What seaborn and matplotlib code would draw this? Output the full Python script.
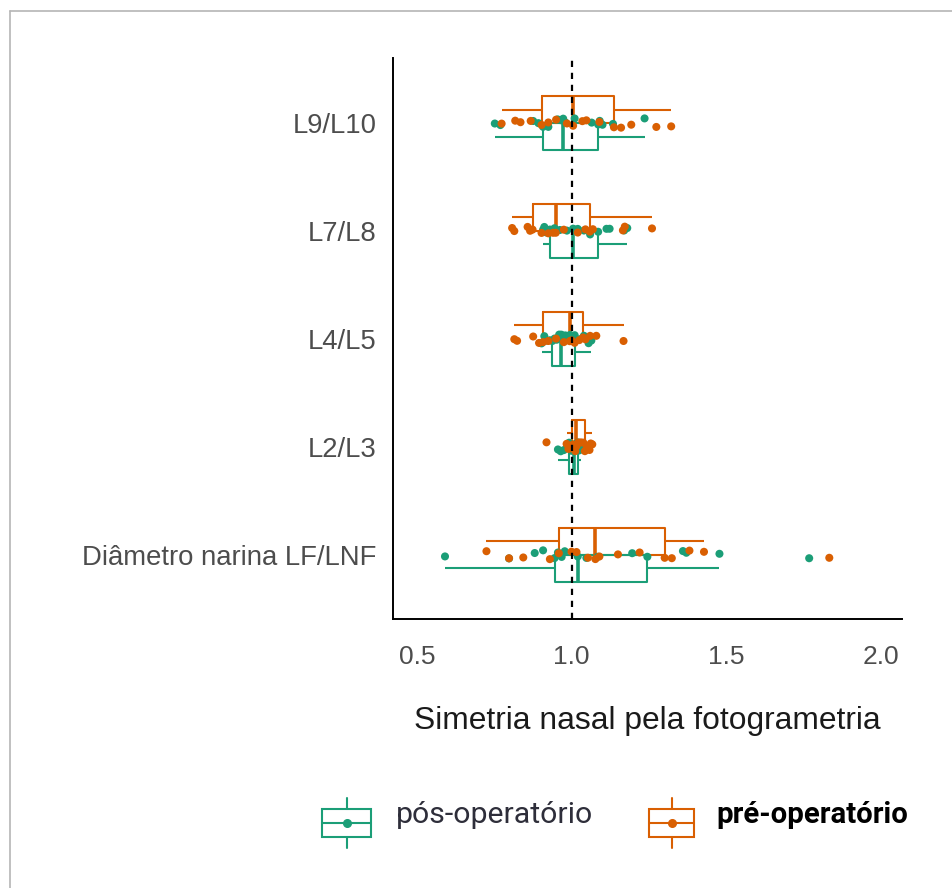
import numpy as np
import pandas as pd
import matplotlib
matplotlib.use("Agg")
import matplotlib.pyplot as plt
from matplotlib.lines import Line2D
from matplotlib.patches import Rectangle
import seaborn as sns

# ---------------- data ----------------
categories = ["L9/L10", "L7/L8", "L4/L5", "L2/L3", "Diâmetro narina LF/LNF"]
groups = ["pós-operatório", "pré-operatório"]

pos_L9_L10 = [0.752, 0.770, 0.876, 0.893, 0.908, 0.925, 0.955, 0.965, 0.973,
              0.980, 1.010, 1.065, 1.086, 1.091, 1.100, 1.134, 1.236]
pre_L9_L10 = [0.774, 0.818, 0.835, 0.868, 0.903, 0.925, 0.950, 0.985, 1.005,
              1.035, 1.048, 1.090, 1.137, 1.160, 1.193, 1.274, 1.322]

pos_L7_L8 = [0.908, 0.912, 0.918, 0.925, 0.930, 0.945, 0.962, 0.985, 1.005,
             1.020, 1.040, 1.060, 1.086, 1.113, 1.123, 1.170, 1.180]
pre_L7_L8 = [0.808, 0.815, 0.858, 0.866, 0.874, 0.903, 0.925, 0.940, 0.949,
             0.975, 1.020, 1.045, 1.059, 1.069, 1.166, 1.172, 1.260]

pos_L4_L5 = [0.903, 0.912, 0.920, 0.930, 0.938, 0.945, 0.952, 0.960, 0.967,
             0.972, 0.980, 0.995, 1.010, 1.025, 1.040, 1.055, 1.064]
pre_L4_L5 = [0.815, 0.824, 0.876, 0.895, 0.908, 0.925, 0.950, 0.975, 0.994,
             1.000, 1.010, 1.025, 1.037, 1.045, 1.060, 1.080, 1.168]

pos_L2_L3 = [0.956, 0.965, 0.975, 0.985, 0.992, 0.996, 1.000, 1.004, 1.008,
             1.010, 1.013, 1.017, 1.021, 1.024, 1.027, 1.030, 1.032]
pre_L2_L3 = [0.919, 0.984, 0.990, 0.995, 1.000, 1.005, 1.008, 1.012, 1.016,
             1.022, 1.030, 1.038, 1.043, 1.050, 1.058, 1.062, 1.067]

pos_diam = [0.591, 0.798, 0.881, 0.908, 0.945, 0.956, 0.968, 0.978, 1.020,
            1.048, 1.085, 1.196, 1.245, 1.360, 1.371, 1.478, 1.768]
pre_diam = [0.725, 0.798, 0.844, 0.930, 0.959, 1.000, 1.016, 1.053, 1.077,
            1.090, 1.150, 1.220, 1.301, 1.324, 1.381, 1.428, 1.833]

x_ticks = [0.5, 1.0, 1.5, 2.0]
x_tick_labels = ["0.5", "1.0", "1.5", "2.0"]
x_label = "Simetria nasal pela fotogrametria"
reference_value = 1.0

series = {
    ("L9/L10", "pós-operatório"): pos_L9_L10,
    ("L9/L10", "pré-operatório"): pre_L9_L10,
    ("L7/L8", "pós-operatório"): pos_L7_L8,
    ("L7/L8", "pré-operatório"): pre_L7_L8,
    ("L4/L5", "pós-operatório"): pos_L4_L5,
    ("L4/L5", "pré-operatório"): pre_L4_L5,
    ("L2/L3", "pós-operatório"): pos_L2_L3,
    ("L2/L3", "pré-operatório"): pre_L2_L3,
    ("Diâmetro narina LF/LNF", "pós-operatório"): pos_diam,
    ("Diâmetro narina LF/LNF", "pré-operatório"): pre_diam,
}
rows = []
for (cat, grp), vals in series.items():
    for v in vals:
        rows.append({"medida": cat, "momento": grp, "valor": v})
df = pd.DataFrame(rows)

# ---------------- style ----------------
GREEN = "#1B9E77"
ORANGE = "#D95F02"
palette = {"pós-operatório": GREEN, "pré-operatório": ORANGE}

sns.set_theme(style="white")
plt.rcParams["font.family"] = ["Liberation Sans", "DejaVu Sans"]

W, H = 953, 888
fig = plt.figure(figsize=(W / 100, H / 100), dpi=100)
fig.patch.set_facecolor("white")


def fx(px):
    return px / W


def fy(py):
    return 1 - py / H


ax = fig.add_axes([fx(392.7), fy(619.3), fx(901.7) - fx(392.7), fy(58.3) - fy(619.3)])

np.random.seed(3)
sns.stripplot(data=df, x="valor", y="medida", hue="momento", order=categories,
              hue_order=["pré-operatório", "pós-operatório"], palette=palette,
              dodge=False, jitter=0.045, size=5.8, linewidth=0, legend=False,
              ax=ax, zorder=3)

sns.boxplot(data=df, x="valor", y="medida", hue="momento", order=categories,
            hue_order=["pré-operatório", "pós-operatório"], palette=palette,
            width=0.5, gap=0, fill=False, saturation=1, showfliers=False,
            showcaps=False, linewidth=1.5, legend=False, ax=ax,
            medianprops=dict(linewidth=2.6))

ax.axvline(reference_value, color="black", linestyle=(0, (2.8, 2.6)), linewidth=1.6, zorder=4)

ax.set_xlim(0.422, 2.067)
ax.set_ylim(len(categories) - 1 + 0.6, -0.6)
ax.set_xticks(x_ticks)
ax.set_xticklabels(x_tick_labels)
ax.set_xlabel("")
ax.set_ylabel("")

for s in ["top", "right"]:
    ax.spines[s].set_visible(False)
for s in ["left", "bottom"]:
    ax.spines[s].set_color("black")
    ax.spines[s].set_linewidth(1.4)

ax.tick_params(axis="x", length=3.5, width=1.0, color="#333333", pad=15,
               labelsize=19, labelcolor="#4D4D4D")
ax.tick_params(axis="y", length=3.5, width=1.0, color="#333333", pad=8,
               labelsize=19.8, labelcolor="#4D4D4D")
ax.grid(False)

fig.text(fx(647), fy(721), x_label, ha="center", va="center",
         fontsize=22.9, color="#1a1a1a")

# ---------------- legend (manual keys) ----------------
def draw_key(x0, x1, y0, y1, color):
    xc = (x0 + x1) / 2
    yc = (y0 + y1) / 2
    fig.add_artist(Rectangle((fx(x0), fy(y1)), fx(x1) - fx(x0), fy(y0) - fy(y1),
                             transform=fig.transFigure, fill=False,
                             edgecolor=color, linewidth=1.5))
    fig.add_artist(Line2D([fx(x0), fx(x1)], [fy(yc), fy(yc)], color=color,
                          linewidth=1.5, transform=fig.transFigure))
    fig.add_artist(Line2D([fx(xc), fx(xc)], [fy(y0 - 11), fy(y0)], color=color,
                          linewidth=1.5, transform=fig.transFigure))
    fig.add_artist(Line2D([fx(xc), fx(xc)], [fy(y1), fy(y1 + 11)], color=color,
                          linewidth=1.5, transform=fig.transFigure))
    fig.add_artist(Line2D([fx(xc)], [fy(yc)], marker="o", markersize=5.5,
                          color=color, linewidth=0, transform=fig.transFigure))


draw_key(322, 371, 809, 837, GREEN)
draw_key(649, 694, 809, 837, ORANGE)
fig.text(fx(396), fy(815), groups[0], ha="left", va="center", fontsize=21.8,
         family=["Roboto", "DejaVu Sans"], color="#2e2e3a")
fig.text(fx(716), fy(815), groups[1], ha="left", va="center", fontsize=21.2,
         family=["Roboto", "DejaVu Sans"], fontweight="bold", color="black")

# outer frame lines (left & top)
fig.add_artist(Line2D([fx(10), fx(10)], [0, fy(11)], color="#b5b5b5",
                      linewidth=1.2, transform=fig.transFigure))
fig.add_artist(Line2D([fx(10), 1], [fy(11), fy(11)], color="#b5b5b5",
                      linewidth=1.2, transform=fig.transFigure))

fig.savefig("out.png", dpi=100, facecolor="white")
